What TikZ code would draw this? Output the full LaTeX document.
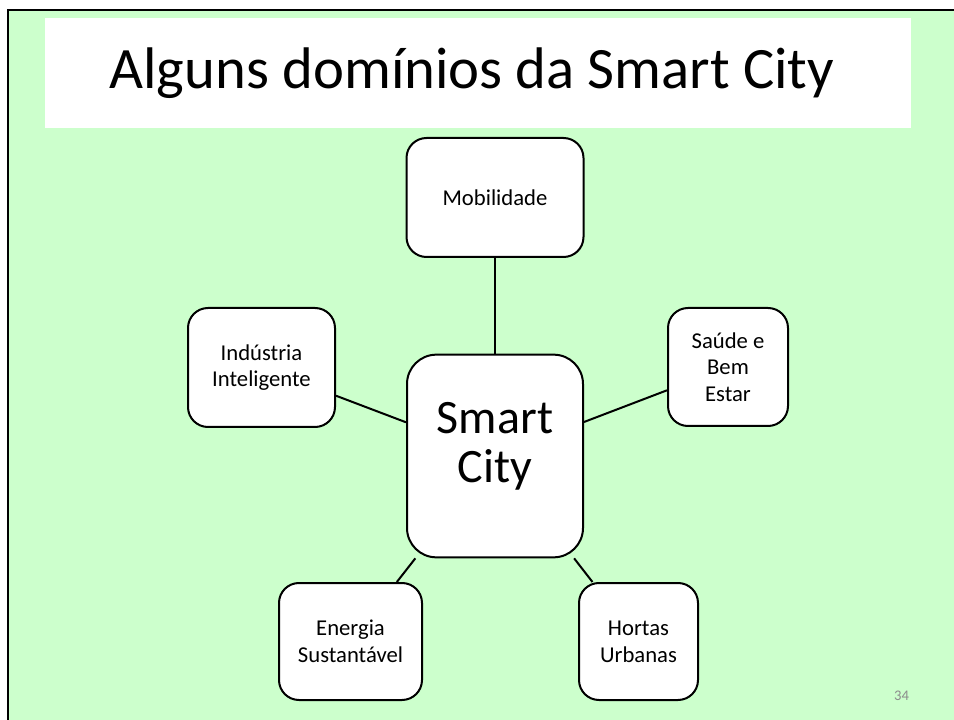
\documentclass[tikz,border=0pt]{standalone}
\usepackage{fontspec}
\setmainfont{Carlito}
\definecolor{slidegreen}{HTML}{CCFFCC}
\definecolor{pagegray}{HTML}{8C8C8C}

\begin{document}
\begin{tikzpicture}[x=0.75pt, y=-0.75pt]
	\tikzstyle{domainbox} = [draw, line width=1.5pt, fill=white, rounded corners=15pt, align=center, inner sep=0pt, font=\fontsize{17}{20}\selectfont]
	\tikzstyle{link} = [line width=1.5pt]
	% slide
	\fill[white] (0,0) rectangle (954,720);
	\useasboundingbox (0,0) rectangle (954,720);
	\draw[fill=slidegreen, line width=2pt] (8,10) rectangle (970,740);
	\fill[white] (45,18) rectangle (911,128);
	\node (title) at (472,73) {\fontsize{44}{50}\selectfont Alguns domínios da Smart City};
	\node[text=pagegray] (page) at (901.5,696) {\fontsize{11}{12}\selectfont 34};
	% domains
	\node[domainbox, rounded corners=22pt, minimum width=132pt, minimum height=152pt, font=\fontsize{36}{37.5}\selectfont] (City) at (495,456)
		{\raisebox{6pt}[\height][\depth]{\begin{tabular}{@{}c@{}}Smart\\City\end{tabular}}};
	\node[domainbox, minimum width=132.75pt, minimum height=89.25pt] (Mobilidade) at (495,197.5) {Mobilidade};
	\node[domainbox, minimum width=110.25pt, minimum height=89.25pt] (Industria) at (261.5,367.5) {Indústria\\Inteligente};
	\node[domainbox, minimum width=90pt, minimum height=88.5pt] (Saude) at (728,367) {Saúde e\\Bem\\Estar};
	\node[domainbox, minimum width=107.25pt, minimum height=87.75pt] (Energia) at (350.5,641.5) {Energia\\Sustantável};
	\node[domainbox, minimum width=89.25pt, minimum height=87.75pt] (Hortas) at (638.5,641.5) {Hortas\\Urbanas};
	\draw[link] (City)--(Mobilidade);
	\draw[link] (City)--(Industria);
	\draw[link] (City)--(Saude);
	\draw[link] (City)--(Energia);
	\draw[link] (City)--(Hortas);
\end{tikzpicture}
\end{document}
